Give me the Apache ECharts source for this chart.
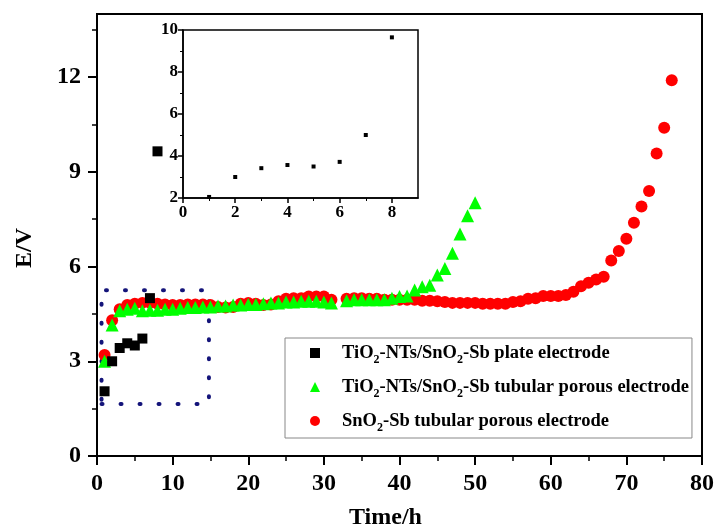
<!DOCTYPE html>
<html><head><meta charset="utf-8">
<script src="https://cdn.jsdelivr.net/npm/echarts@6/dist/echarts.min.js"></script>
<style>html,body{margin:0;padding:0;background:#fff}#c{width:718px;height:529px}</style>
</head><body><div id="c"></div>
<script>
// ---- data ----
const seriesNames = [
  'TiO2-NTs/SnO2-Sb plate electrode',
  'TiO2-NTs/SnO2-Sb tubular porous electrode',
  'SnO2-Sb tubular porous electrode'
];
const richNames = [
  'TiO{s|2}-NTs/SnO{s|2}-Sb plate electrode',
  'TiO{s|2}-NTs/SnO{s|2}-Sb tubular porous electrode',
  'SnO{s|2}-Sb tubular porous electrode'
];
const plateHours = [1, 2, 3, 4, 5, 6, 7, 8];
const plateE = [2.05, 3.0, 3.42, 3.57, 3.5, 3.72, 5.0, 9.65];

const tiTubeHours = [1,2,3,4,5,6,7,8,9,10,11,12,13,14,15,16,17,18,19,20,21,22,23,24,25,26,27,28,29,30,31,
  33,34,35,36,37,38,39,40,41,42,43,44,45,46,47,48,49,50];
const tiTubeE = [3.0,4.15,4.6,4.65,4.68,4.6,4.62,4.62,4.65,4.65,4.68,4.7,4.7,4.72,4.72,4.75,4.75,4.78,4.78,4.8,4.8,4.82,4.85,4.85,4.88,4.88,4.9,4.9,4.9,4.88,4.85,
  4.92,4.95,4.95,4.95,4.95,4.95,5.0,5.05,5.07,5.26,5.36,5.41,5.73,5.94,6.42,7.03,7.61,8.02];

const snHours = [1,2,3,4,5,6,7,8,9,10,11,12,13,14,15,16,17,18,19,20,21,22,23,24,25,26,27,28,29,30,31,
  33,34,35,36,37,38,39,40,41,42,43,44,45,46,47,48,49,50,51,52,53,54,55,56,57,58,59,60,
  61,62,63,64,65,66,67,68,69,70,71,72,73,74,75,76];
const snE = [3.2,4.3,4.65,4.78,4.82,4.85,4.85,4.82,4.8,4.78,4.78,4.8,4.8,4.8,4.78,4.72,4.7,4.72,4.82,4.85,4.82,4.78,4.8,4.9,4.98,5.0,5.0,5.05,5.05,5.05,4.95,
  4.98,5.0,5.0,4.98,4.98,4.95,4.95,4.95,4.95,4.95,4.92,4.92,4.9,4.88,4.85,4.85,4.85,4.85,4.82,4.82,4.82,4.82,4.88,4.9,4.98,5.0,5.07,5.07,
  5.07,5.1,5.2,5.38,5.49,5.59,5.68,6.19,6.49,6.88,7.39,7.9,8.39,9.58,10.4,11.9];

const yTicks = [0, 3, 6, 9, 12];
const insetXTicks = [0, 2, 4, 6, 8];
const insetYTicks = [2, 4, 6, 8, 10];
const zoomBox = [[0.6, 1.65], [14.8, 5.25]];

// ---- build ----
const zip = (xs, ys) => xs.map((x, i) => [x, ys[i]]);
const FONT = 'Liberation Serif';
const txt = (size) => ({ fontFamily: FONT, fontWeight: 'bold', fontSize: size, color: '#000' });
const blackLine = (w) => ({ lineStyle: { color: '#000', width: w } });

const chart = echarts.init(document.getElementById('c'), null, { renderer: 'canvas' });
chart.setOption({
  animation: false,
  backgroundColor: '#fff',
  grid: [
    { left: 97, right: 16, top: 14, bottom: 73, containLabel: false, outerBoundsMode: 'none', show: true, borderColor: '#000', borderWidth: 2, backgroundColor: 'transparent' },
    { left: 183, top: 30, width: 235, height: 168, containLabel: false, outerBoundsMode: 'none', show: true, borderColor: '#000', borderWidth: 1.5, backgroundColor: 'transparent' }
  ],
  xAxis: [
    {
      gridIndex: 0, type: 'value', min: 0, max: 80, interval: 10,
      axisLine: blackLine(2),
      axisTick: { inside: false, length: 9, lineStyle: { color: '#000', width: 2 } },
      minorTick: { show: true, splitNumber: 2, length: 5, lineStyle: { color: '#000', width: 1.5 } },
      splitLine: { show: false },
      axisLabel: Object.assign({ margin: 16 }, txt(24)),
      name: 'Time/h', nameLocation: 'middle', nameGap: 50,
      nameTextStyle: Object.assign({ padding: [0, 28, 0, 0] }, txt(24))
    },
    {
      gridIndex: 1, type: 'value', min: 0, max: 9, interval: 2,
      axisLine: blackLine(1.5),
      axisTick: { inside: false, length: 5, customValues: insetXTicks, lineStyle: { color: '#000', width: 1.5 } },
      minorTick: { show: true, splitNumber: 2, length: 3, lineStyle: { color: '#000', width: 1 } },
      splitLine: { show: false },
      axisLabel: Object.assign({ margin: 6, customValues: insetXTicks }, txt(17))
    }
  ],
  yAxis: [
    {
      gridIndex: 0, type: 'value', min: 0, max: 14, interval: 3,
      axisLine: blackLine(2),
      axisTick: { inside: false, length: 9, customValues: yTicks, lineStyle: { color: '#000', width: 2 } },
      minorTick: { show: true, splitNumber: 2, length: 5, lineStyle: { color: '#000', width: 1.5 } },
      splitLine: { show: false },
      axisLabel: Object.assign({ margin: 16, customValues: yTicks }, txt(24)),
      name: 'E/V', nameLocation: 'middle', nameGap: 60,
      nameTextStyle: Object.assign({ padding: [0, 26, 0, 0] }, txt(24))
    },
    {
      gridIndex: 1, type: 'value', min: 2, max: 10, interval: 2,
      axisLine: blackLine(1.5),
      axisTick: { inside: false, length: 5, customValues: insetYTicks, lineStyle: { color: '#000', width: 1.5 } },
      minorTick: { show: true, splitNumber: 2, length: 3, lineStyle: { color: '#000', width: 1 } },
      splitLine: { show: false },
      axisLabel: Object.assign({ margin: 5, customValues: insetYTicks }, txt(17))
    }
  ],
  legend: {
    data: seriesNames, orient: 'vertical', left: 285, top: 338,
    itemWidth: 10, itemHeight: 10, itemGap: 8, padding: [2, 3, 4, 25],
    borderColor: '#888', borderWidth: 1, backgroundColor: '#fff',
    selectedMode: false,
    formatter: (n) => '{g|}' + richNames[seriesNames.indexOf(n)],
    textStyle: Object.assign({ lineHeight: 26, rich: {
      g: { width: 17, lineHeight: 26 },
      s: { fontFamily: FONT, fontWeight: 'bold', fontSize: 12, lineHeight: 26, verticalAlign: 'bottom', color: '#000' }
    } }, txt(18.5))
  },
  series: [
    {
      name: seriesNames[2], type: 'scatter', xAxisIndex: 0, yAxisIndex: 0,
      symbol: 'circle', symbolSize: 12, itemStyle: { color: '#ff0000', opacity: 1 },
      data: zip(snHours, snE), z: 2
    },
    {
      name: seriesNames[1], type: 'scatter', xAxisIndex: 0, yAxisIndex: 0,
      symbol: 'triangle', symbolSize: 13, itemStyle: { color: '#00ff00', opacity: 1 },
      data: zip(tiTubeHours, tiTubeE), z: 3
    },
    {
      name: seriesNames[0], type: 'scatter', xAxisIndex: 0, yAxisIndex: 0,
      symbol: 'rect', symbolSize: 10, itemStyle: { color: '#000', opacity: 1 },
      data: zip(plateHours, plateE), z: 4,
      markArea: {
        silent: true,
        itemStyle: { color: 'rgba(0,0,0,0)', borderColor: '#14147a', borderWidth: 4, borderType: [1, 18], borderCap: 'round' },
        data: [[{ coord: zoomBox[0] }, { coord: zoomBox[1] }]]
      }
    },
    {
      name: 'inset', type: 'scatter', xAxisIndex: 1, yAxisIndex: 1,
      symbol: 'rect', symbolSize: 4, itemStyle: { color: '#000', opacity: 1 },
      data: zip(plateHours, plateE), z: 5
    }
  ]
});
</script></body></html>
